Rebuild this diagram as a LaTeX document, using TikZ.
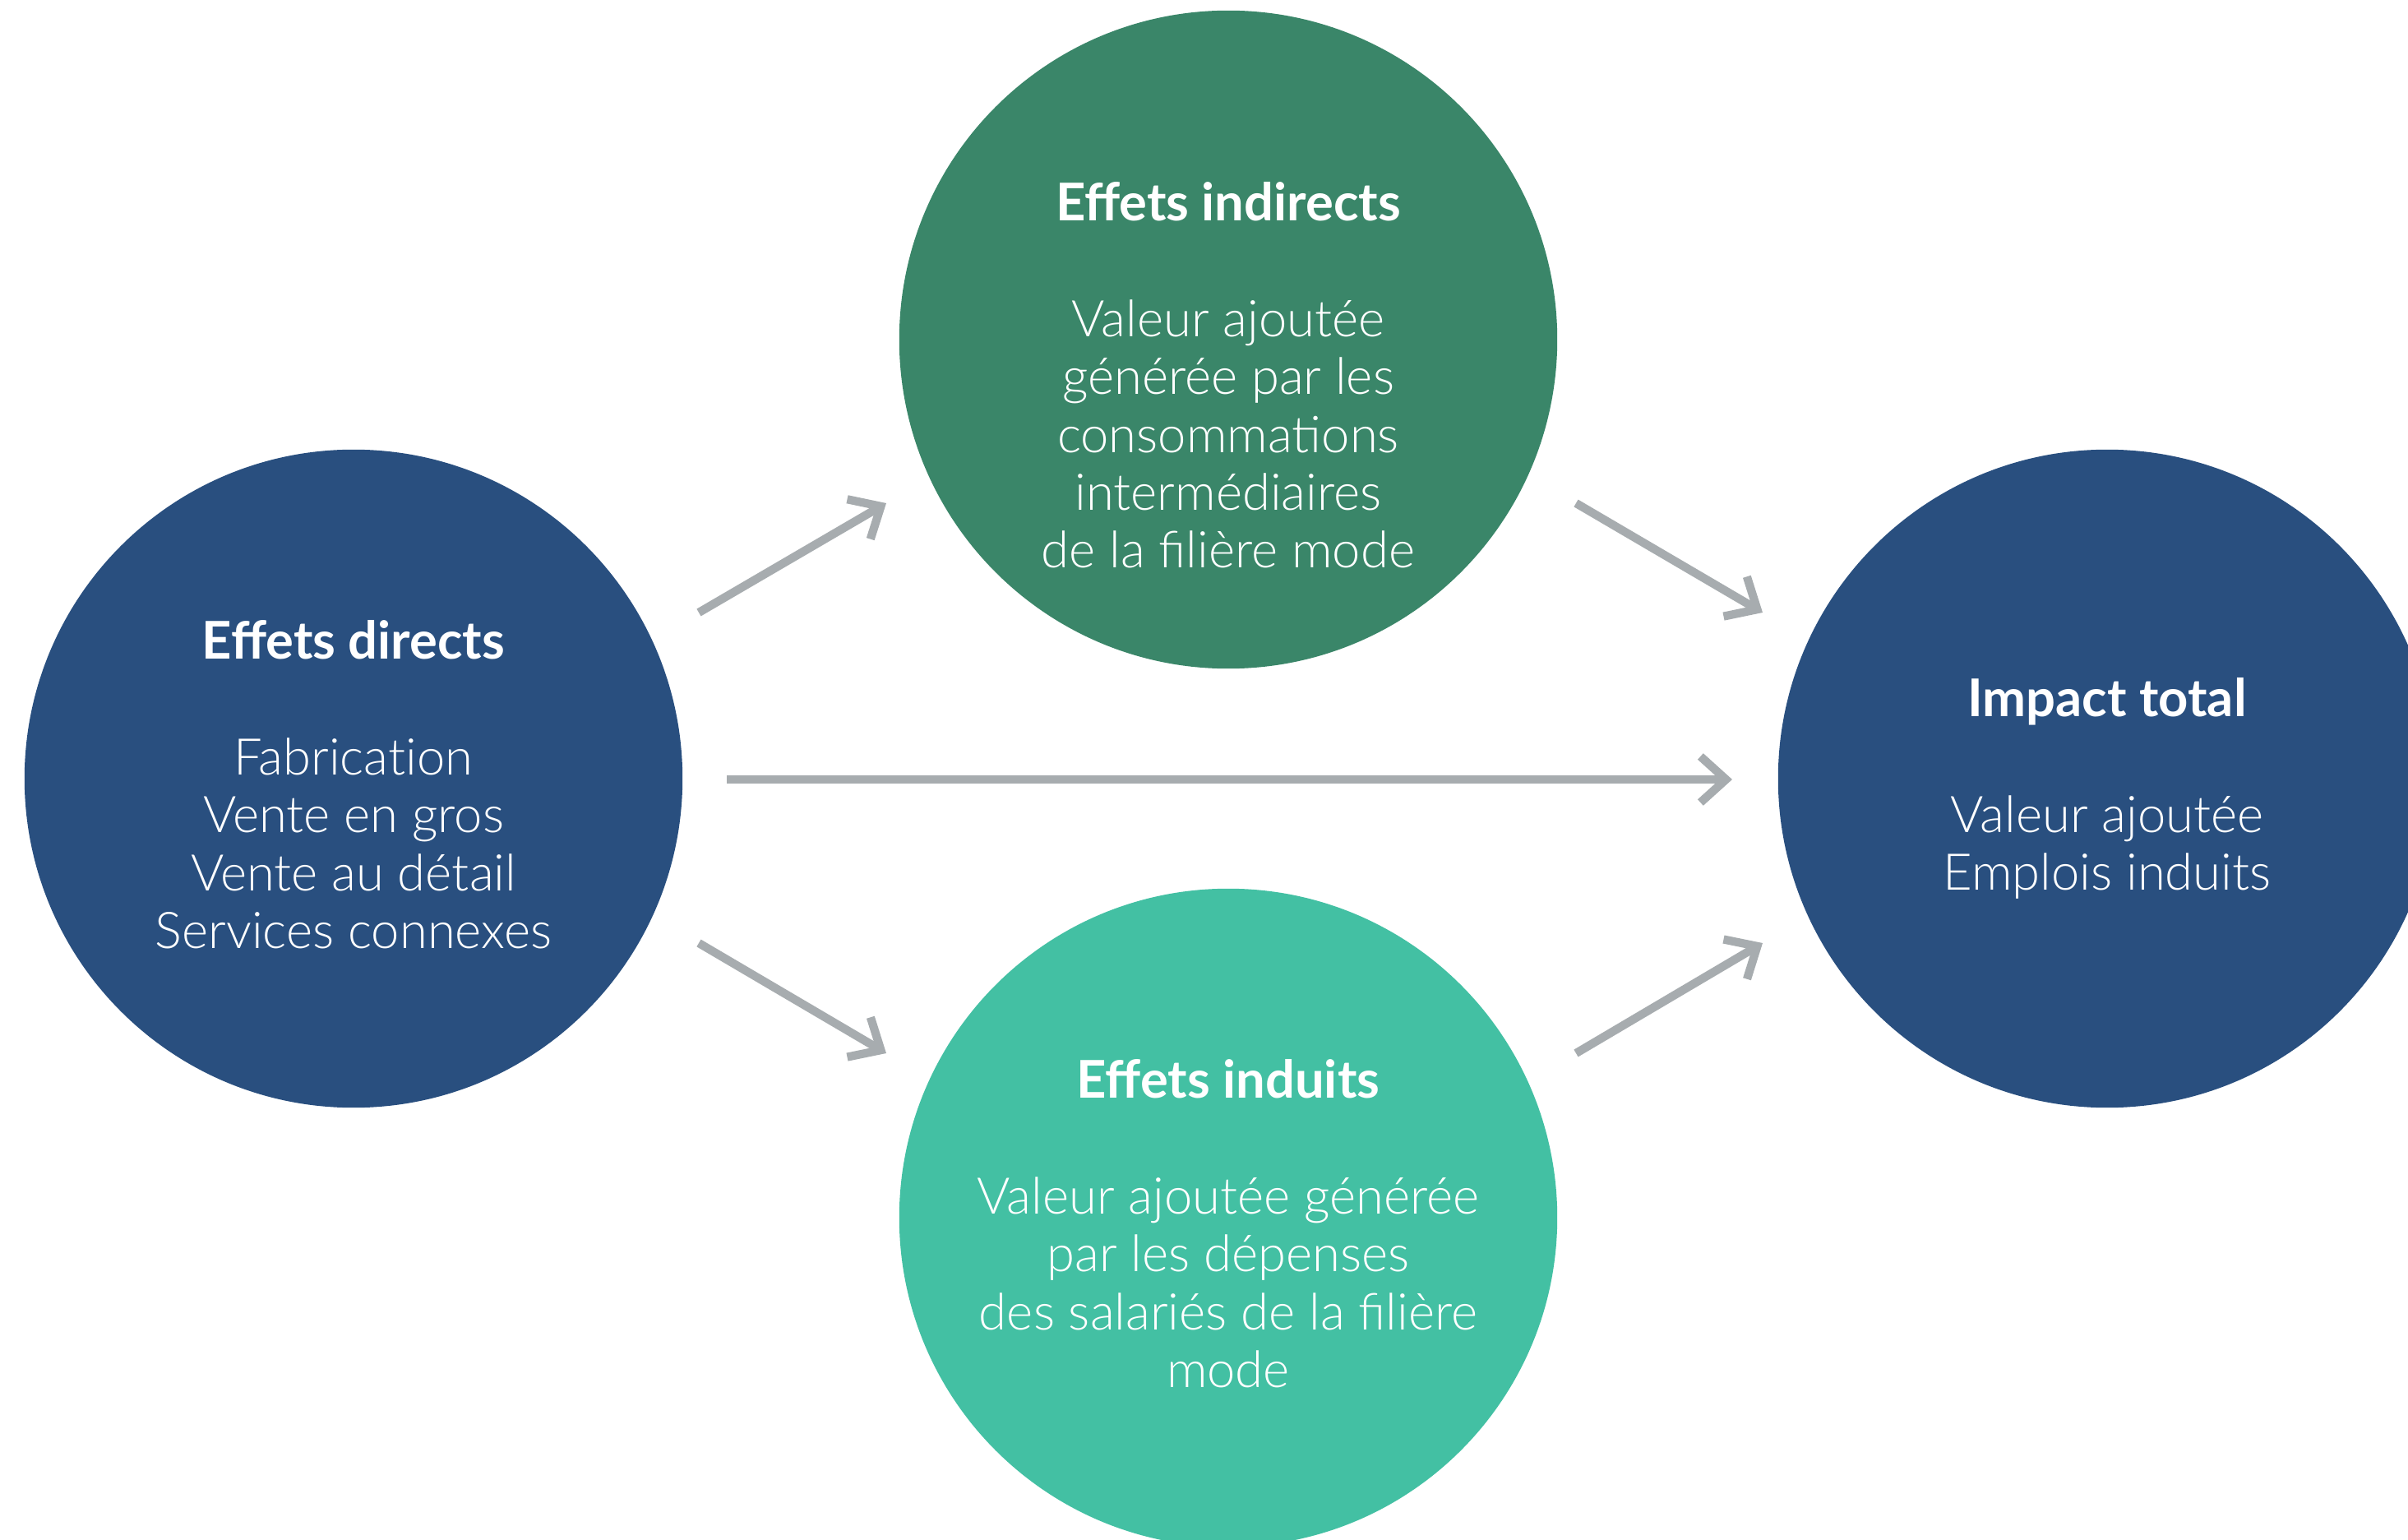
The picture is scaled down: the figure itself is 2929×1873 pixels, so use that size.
\documentclass[tikz,border=0pt]{standalone}
\usepackage{fontspec}
\setmainfont{Lato Light}[BoldFont={Lato Bold}]
\usetikzlibrary{arrows.meta}
\definecolor{dblue}{HTML}{294F7F}
\definecolor{dgreen}{HTML}{3A8669}
\definecolor{lteal}{HTML}{43C0A3}
\definecolor{agray}{HTML}{A7ACAF}
\tikzset{
  circ/.style={circle, minimum size=8cm, inner sep=0pt, outer sep=0pt, draw=none},
  txt/.style={anchor=north, inner sep=0pt, align=center, text=white,
    font=\fontsize{17.5}{20}\selectfont},
  arr/.style={draw=agray, line width=2.9pt,
    -{Straight Barb[sharp, length=0.31cm, width=0.56cm]}},
}
\newcommand{\ttl}[1]{{\bfseries\fontsize{18}{20}\selectfont #1}}
\begin{document}
\begin{tikzpicture}[x=0.01cm, y=-0.01cm]
\useasboundingbox (0,0) rectangle (2929,1873);
\clip (0,0) rectangle (2929,1873);
\node[circ, fill=dblue]  (dir) at (430,947)  {};
\node[circ, fill=dgreen] (ind) at (1494,413) {};
\node[circ, fill=lteal]  (ndu) at (1494,1481) {};
\node[circ, fill=dblue]  (tot) at (2563,947) {};

\node[txt] (dirt) at (430,754) {\ttl{Effets directs}\\[20pt]Fabrica\hbox{}t\hbox{}ion\\Vente en gros\\Vente au détail\\Services connexes};
\node[txt] (indt) at (1494,221) {\ttl{Effets indirects}\\[20pt]Valeur ajoutée\\générée par les\\consommations\\intermédiaires\\de la filière mode};
\node[txt] (ndut) at (1494,1288) {\ttl{Effets induits}\\[20pt]Valeur ajoutée générée\\par les dépenses\\des salariés de la filière\\mode};
\node[txt] (tott) at (2563,824) {\ttl{Impact total}\\[20pt]Valeur ajoutée\\Emplois induits};

\draw[arr] ([shift={(420,-202)}]dir.center) -- ([shift={(-416,199)}]ind.center);
\draw[arr] ([shift={(423,199)}]ind.center) -- ([shift={(-419,-202)}]tot.center);
\draw[arr] ([shift={(420,200)}]dir.center) -- ([shift={(-416,-200)}]ndu.center);
\draw[arr] ([shift={(423,-200)}]ndu.center) -- ([shift={(-419,200)}]tot.center);
\draw[arr] ([shift={(454,1)}]dir.center) -- ([shift={(-456,1)}]tot.center);
\end{tikzpicture}
\end{document}
